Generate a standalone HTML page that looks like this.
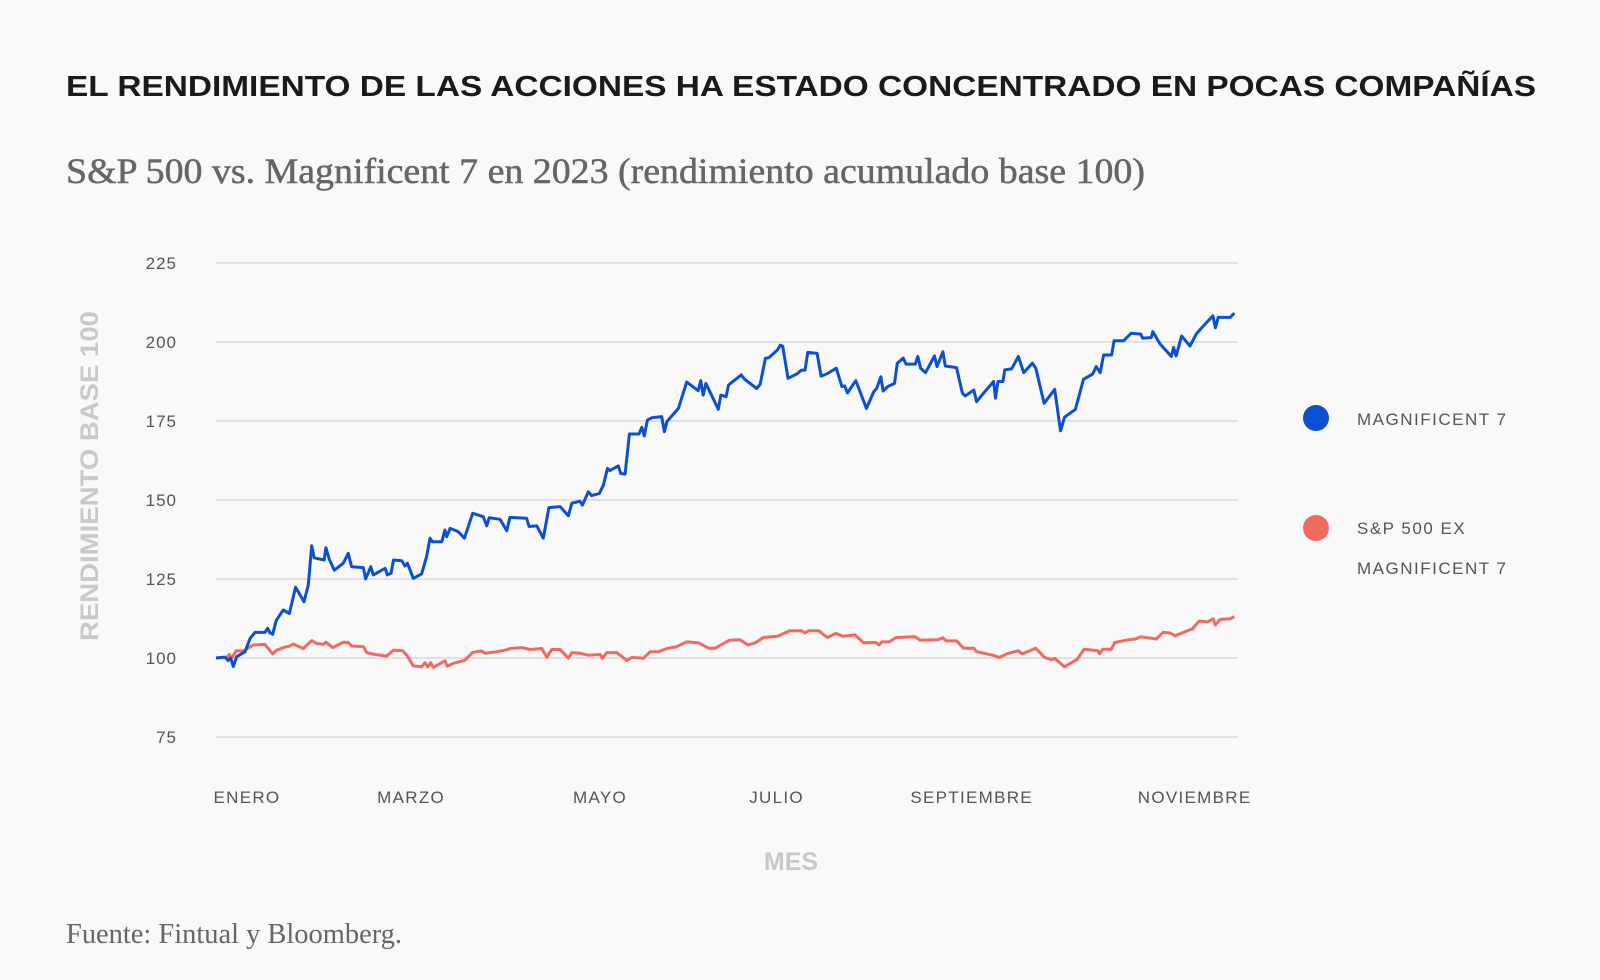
<!DOCTYPE html>
<html><head><meta charset="utf-8">
<style>
html,body{margin:0;padding:0;background:#f9f9f9;}
svg{display:block;}
</style></head>
<body>
<svg id="chart" width="1600" height="980" viewBox="0 0 1600 980" xmlns="http://www.w3.org/2000/svg">
<rect x="0" y="0" width="1600" height="980" fill="#f9f9f9"/>
<text x="66" y="96" font-family="'Liberation Sans',sans-serif" font-weight="bold" font-size="29" fill="#1a1a1a" textLength="1470" lengthAdjust="spacingAndGlyphs">EL RENDIMIENTO DE LAS ACCIONES HA ESTADO CONCENTRADO EN POCAS COMPAÑÍAS</text>
<text x="66" y="183" font-family="'Liberation Serif',serif" font-size="36" fill="#666" stroke="#666" stroke-width="0.5" textLength="1079" lengthAdjust="spacingAndGlyphs">S&amp;P 500 vs. Magnificent 7 en 2023 (rendimiento acumulado base 100)</text>
<g id="grid"></g>
<g id="yticks"></g>
<g id="xticks"></g>
<g id="series"></g>
<text x="0" y="0" transform="translate(98,476) rotate(-90)" text-anchor="middle" font-family="'Liberation Sans',sans-serif" font-weight="bold" font-size="25" fill="#c9c9c9" textLength="330" lengthAdjust="spacingAndGlyphs">RENDIMIENTO BASE 100</text>
<text x="791" y="870" text-anchor="middle" font-family="'Liberation Sans',sans-serif" font-weight="bold" font-size="25" fill="#c9c9c9">MES</text>
<g>
<g>
<circle cx="1316" cy="418" r="13" fill="#0c4fd0"/>
<text x="1357" y="425" font-family="'Liberation Sans',sans-serif" font-size="17" fill="#555" letter-spacing="1.5">MAGNIFICENT 7</text>
</g>
<g>
<circle cx="1316" cy="528" r="13" fill="#f06b5f"/>
<text x="1357" y="534" font-family="'Liberation Sans',sans-serif" font-size="17" fill="#555" letter-spacing="1.5">S&amp;P 500 EX</text>
<text x="1357" y="574" font-family="'Liberation Sans',sans-serif" font-size="17" fill="#555" letter-spacing="1.5">MAGNIFICENT 7</text>
</g>
</g>
<text x="66" y="943" font-family="'Liberation Serif',serif" font-size="28" fill="#666" textLength="336" lengthAdjust="spacingAndGlyphs">Fuente: Fintual y Bloomberg.</text>
</svg>
<script>
const yTicks = [75, 100, 125, 150, 175, 200, 225];
const xTickLabels = ["ENERO", "MARZO", "MAYO", "JULIO", "SEPTIEMBRE", "NOVIEMBRE"];
const xTickDays = [10, 63, 124, 181, 244, 316];
const magDays = [0,2.9,3.9,4.7,5.6,6.7,9.4,11,12.6,15.8,16.7,17.4,18.3,19.4,21.7,23.7,25.7,28.4,29.8,30.9,31.7,34.9,35.5,36.6,38.2,41.1,42.7,43.8,47.6,48.3,50,50.8,54.6,55.3,56.5,57.3,60,61,61.8,63.7,66.4,68,69.1,69.8,72.9,73.9,74.5,75.6,78.2,80.2,82.9,86.3,87.4,88.2,91.7,93.9,94.9,100.3,101.1,103.6,105.7,107.5,111.1,113.8,114.9,117.5,118.3,120.2,121.3,123.8,125.1,126.4,127.2,129.9,130.7,132.1,133.5,136.6,137.5,138.3,139.3,140.7,143.9,144.8,145.6,149.3,152,155.7,156.5,157.3,158.2,162.2,163,164.7,165.5,169.6,170.7,174.6,175.7,177.4,178.5,181.3,182.2,183,184.7,187.4,189.1,190.2,191.1,194.1,195.4,197.4,200.3,202.1,203,203.9,206.6,210,212.4,213.3,214.7,215.4,216.9,219.1,220,221.9,222.8,225.8,226.6,227.5,229.1,232,232.8,234.7,235.5,239.1,241,241.9,244.7,245.6,247.3,251.1,251.7,252.5,254.1,254.7,256.9,259.1,260.8,263.6,264.7,267.4,270.8,272.7,274,277.5,280.1,283.1,284.2,285.5,286.6,289.2,290,293.1,295.5,298.6,299.2,302,302.5,304.8,308.5,309.2,310,311.8,314.5,316.5,318.1,321.9,322.7,323.6,327.5,328.8];
const magValues = [100,100.3,99.2,100,97.3,100.4,102,106.2,108.1,108.1,109.4,108,107.5,111.8,115.2,114.1,122.4,117.8,123.1,135.5,131.7,131,134.9,131.2,127.8,130,133.1,128.9,128.6,125,128.9,126.3,128.4,126.3,126.8,131,130.8,129.1,130,125.2,126.6,132.1,137.9,136.8,136.8,140.5,138.4,141,140,137.9,145.8,144.7,141.8,144.4,143.9,140.3,144.5,144.2,141.6,141.8,137.9,147.6,147.9,145,149,149.6,148.4,152.6,151.4,152.1,154.7,160,159.3,160.8,158.4,158.2,170.9,170.9,173,170.3,175.3,176,176.4,171.6,174.8,179,187.3,184.6,187.8,183.2,186.9,178.7,183.2,182.7,186.4,189.6,188.2,185.3,186.6,194.8,195,197.5,199,198.7,188.5,189.8,191.1,191.1,196.7,196.4,189.2,190,191.7,185.9,186.1,183.9,187.8,179,184.3,185.3,189,184.5,185.9,186.9,193.3,194.9,193,193,195.4,191.7,190.3,195.6,192.2,196.9,192.4,191.9,183.8,182.9,184.8,181.1,183.2,187.5,182.2,187.5,187.5,191.2,191.5,195.4,190.3,193.3,191.7,180.6,185,171.9,176.2,178.7,188.2,189.9,192.2,190.3,195.9,195.9,200.4,200.4,202.8,202.5,201.2,201.4,203.3,199.4,195.4,198.3,195.6,201.9,198.7,202.5,204.3,208.3,204.5,207.8,207.8,209.1];
const spxDays = [0,3.5,4.3,5.1,6.5,8.8,12,15.8,18.3,19.6,21.7,23.9,25,28.2,30.9,32.5,34.7,35.5,37.7,41.1,42.7,43.8,47.6,48.7,50.8,55.1,57.3,60.3,61.6,63.7,66.4,67.5,68.4,69.3,70.2,73.9,74.7,76.6,80.4,82.9,85.8,86.9,90.6,93.9,94.9,98.7,101.4,105.2,106.8,108.4,111.1,113.8,114.9,117.5,120.2,124,124.8,126.2,129.4,132.7,134.3,138,140.2,142.9,145.6,148.8,152,155.7,159.1,161.3,163,165.7,169.1,171.8,174.1,176.8,181.3,185.2,189.1,190.2,191.3,194.6,197.4,200.2,202.4,206.3,209.1,213,214.1,215,217.4,219.6,225.7,227.4,233,234.7,235.8,239.1,241.4,244.7,245.6,250.8,253,255.8,259.1,260.3,264.7,267.5,269.7,270.8,273.9,278,280.3,284.7,285.3,286.3,289.1,290.2,294.7,296.9,298.6,303.6,305.8,308,309.7,315.2,317.5,320.2,322,322.7,324.2,327.5,328.8];
const spxValues = [100,100.2,101.1,99.9,102.3,102.2,104.1,104.3,101.3,102.5,103.3,103.8,104.4,103,105.5,104.6,104.3,105,103.3,105,104.9,103.8,103.6,101.7,101.2,100.6,102.5,102.3,100.9,97.5,97.2,98.5,97.2,98.5,97,99.1,97.4,98.3,99.3,101.8,102.2,101.5,102,102.6,103,103.3,102.7,103,100.2,102.7,102.7,99.9,101.7,101.5,100.9,101.1,99.9,101.7,101.7,99.2,100.2,99.9,102,102,103,103.6,105.1,104.8,103.1,103.1,104.1,105.6,105.8,104.1,104.8,106.5,106.9,108.6,108.6,107.9,108.6,108.6,106.5,107.8,106.9,107.3,104.8,104.9,104.1,105.1,105.1,106.5,106.7,105.6,105.8,106.4,105.4,105.4,103.1,103.1,102,100.9,100.2,101.5,102.3,101.3,103.1,100.2,99.5,99.9,97.2,99.5,102.8,102.3,101.3,102.8,102.8,104.9,105.8,106,106.7,106,108.1,107.9,107.1,109.2,111.7,111.4,112.4,110.4,112.2,112.4,113.1];

const NS = "http://www.w3.org/2000/svg";
const X0 = 216, X1 = 1238, D0 = 0, D1 = 330;
const Y0 = 658, PX_PER_UNIT = 79 / 25;
function xs(d){ return X0 + (d - D0) / (D1 - D0) * (X1 - X0); }
function ys(v){ return Y0 - (v - 100) * PX_PER_UNIT; }
function mk(tag, attrs){ const e = document.createElementNS(NS, tag); for (const k in attrs) e.setAttribute(k, attrs[k]); return e; }

const grid = document.getElementById('grid');
const yt = document.getElementById('yticks');
yTicks.forEach(v => {
  const l = mk('line', {x1: X0, x2: X1, y1: ys(v), y2: ys(v), stroke: '#d3d3d3', 'stroke-width': 1.3});
  
  
  grid.appendChild(l);
  const t = mk('text', {x: 177, y: ys(v) + 6, 'text-anchor': 'end', 'font-family': "'Liberation Sans',sans-serif", 'font-size': 17, fill: '#555', 'letter-spacing': 1});
  t.textContent = v;
  
  
  yt.appendChild(t);
});
const xt = document.getElementById('xticks');
xTickLabels.forEach((lab, i) => {
  const t = mk('text', {x: xs(xTickDays[i]), y: 803, 'text-anchor': 'middle', 'font-family': "'Liberation Sans',sans-serif", 'font-size': 17, fill: '#555', 'letter-spacing': 1.3});
  t.textContent = lab;
  
  
  xt.appendChild(t);
});
const ser = document.getElementById('series');
function line(days, vals, color, name){
  const d = days.map((dd, i) => (i ? 'L' : 'M') + xs(dd).toFixed(1) + ',' + ys(vals[i]).toFixed(1)).join(' ');
  const p = mk('path', {d: d, fill: 'none', stroke: color, 'stroke-width': 3, 'stroke-linejoin': 'round'});
  
  
  ser.appendChild(p);
}
line(spxDays, spxValues, '#f06b5f', 'line-sp500-ex-magnificent-7');
line(magDays, magValues, '#0c4fd0', 'line-magnificent-7');
</script>
</body></html>
